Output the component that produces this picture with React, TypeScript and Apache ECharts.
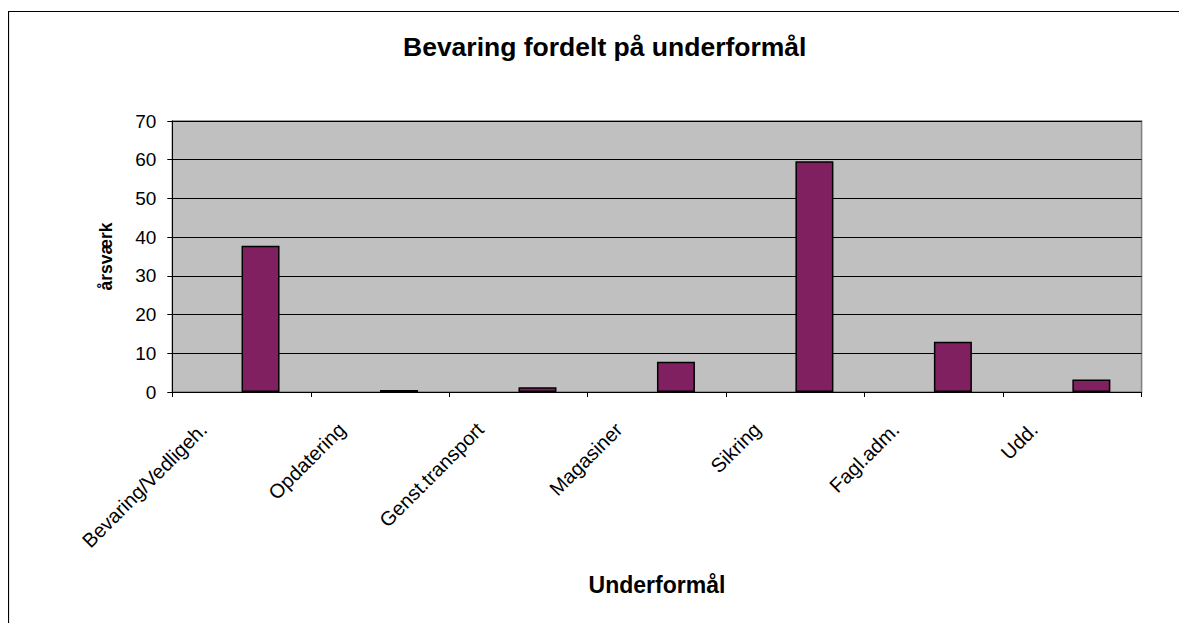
import React, { useEffect, useRef } from "react";
import * as echarts from "echarts";

const chartTitle = "Bevaring fordelt på underformål";
const xAxisTitle = "Underformål";
const yAxisTitle = "årsværk";
const categories = [
  "Bevaring/Vedligeh.",
  "Opdatering",
  "Genst.transport",
  "Magasiner",
  "Sikring",
  "Fagl.adm.",
  "Udd.",
];
const emptySeries = [null, null, null, null, null, null, null];
const values = [37.8, 0.5, 1.2, 7.8, 59.6, 13.0, 3.2];
const yMin = 0;
const yMax = 70;
const yInterval = 10;

const FONT = "'Liberation Sans', Arial, sans-serif";

export default function App() {
  const ref = useRef<HTMLDivElement>(null);
  useEffect(() => {
    if (!ref.current) return;
    const chart = echarts.init(ref.current, undefined, { renderer: "svg" });
    chart.setOption({
      animation: false,
      backgroundColor: "#ffffff",
      title: {
        text: chartTitle,
        left: 395,
        top: 25,
        padding: 0,
        textStyle: { fontFamily: FONT, fontSize: 26.5, fontWeight: "bold", color: "#000" },
      },
      graphic: [
        {
          type: "rect",
          shape: { x: 0.5, y: 3.5, width: 3000, height: 3000 },
          style: { fill: "none", stroke: "#000", lineWidth: 1.2 },
          silent: true,
        },
      ],
      grid: {
        left: 164.3,
        top: 113,
        width: 969.3,
        height: 271,
        show: true,
        backgroundColor: "#C0C0C0",
        borderColor: "#808080",
        borderWidth: 1.5,
      },
      xAxis: {
        type: "category",
        data: categories,
        boundaryGap: true,
        name: xAxisTitle,
        nameLocation: "middle",
        nameGap: 181,
        nameTextStyle: { fontFamily: FONT, fontSize: 23, fontWeight: "bold", color: "#000" },
        axisLine: { show: true, lineStyle: { color: "#000", width: 1 } },
        axisTick: { show: true, length: 5, inside: false, lineStyle: { color: "#000" } },
        axisLabel: {
          interval: 0,
          rotate: 45,
          margin: -4,
          padding: [0, 54, 0, 0],
          fontFamily: FONT,
          fontSize: 20,
          color: "#000",
        },
        splitLine: { show: false },
      },
      yAxis: {
        type: "value",
        min: yMin,
        max: yMax,
        interval: yInterval,
        name: yAxisTitle,
        nameLocation: "middle",
        nameGap: 57,
        nameTextStyle: { fontFamily: FONT, fontSize: 17.5, fontWeight: "bold", color: "#000" },
        axisLine: { show: true, lineStyle: { color: "#000", width: 1 } },
        axisTick: { show: true, length: 5, inside: false, lineStyle: { color: "#000" } },
        axisLabel: { margin: 16, fontFamily: FONT, fontSize: 19, color: "#000" },
        splitLine: { show: true, lineStyle: { color: "#000", width: 1 } },
      },
      series: [
        {
          type: "bar",
          data: emptySeries,
          barWidth: 38,
          barGap: "0%",
          itemStyle: { color: "#9999FF", borderColor: "#000", borderWidth: 1.5 },
        },
        {
          type: "bar",
          data: values,
          barWidth: 38,
          barGap: "0%",
          itemStyle: { color: "#802060", borderColor: "#000", borderWidth: 1.5 },
        },
      ],
    });
    return () => chart.dispose();
  }, []);
  return <div ref={ref} style={{ width: 1179, height: 615 }} />;
}
